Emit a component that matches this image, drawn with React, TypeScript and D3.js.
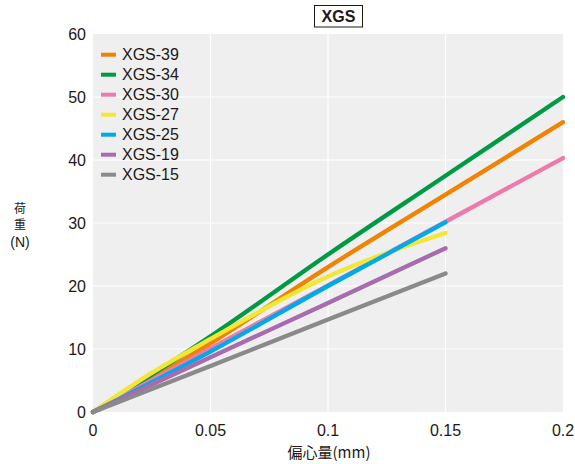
import React from "react";
import * as d3 from "d3";

const seriesNames = ["XGS-39", "XGS-34", "XGS-30", "XGS-27", "XGS-25", "XGS-19", "XGS-15"];
const seriesColors = ["#f08300", "#009944", "#ee79ad", "#f3e635", "#00a9e8", "#a86cae", "#8a8a8a"];

const xs39 = [0, 0.05, 0.1, 0.15, 0.2];
const ys39 = [0, 10.9, 23, 34.5, 46];
const xs34 = [0, 0.05, 0.1, 0.15, 0.2];
const ys34 = [0, 12, 25, 37.5, 50];
const xs30 = [0, 0.05, 0.1, 0.15, 0.2];
const ys30 = [0, 10.1, 20.1, 30.2, 40.3];
const xs27 = [0, 0.025, 0.05, 0.1, 0.15];
const ys27 = [0, 6.2, 11.6, 21.5, 28.4];
const xs25 = [0, 0.05, 0.1, 0.15];
const ys25 = [0, 9.6, 20, 30.1];
const xs19 = [0, 0.05, 0.1, 0.15];
const ys19 = [0, 8.7, 17.3, 26];
const xs15 = [0, 0.05, 0.1, 0.15];
const ys15 = [0, 7.3, 14.7, 22];

const seriesX = [xs39, xs34, xs30, xs27, xs25, xs19, xs15];
const seriesY = [ys39, ys34, ys30, ys27, ys25, ys19, ys15];

const xTicks = [0, 0.05, 0.1, 0.15, 0.2];
const yTicks = [0, 10, 20, 30, 40, 50, 60];

export default function App() {
  const left = 93, right = 563, top = 34, bottom = 412;
  const x = d3.scaleLinear().domain([0, 0.2]).range([left, right]);
  const y = d3.scaleLinear().domain([0, 60]).range([bottom, top]);
  const line = d3.line<[number, number]>().x(d => x(d[0])).y(d => y(d[1])).curve(d3.curveMonotoneX);
  const font = "'Liberation Sans', Arial, sans-serif";
  const cjk = "'Noto Sans CJK JP', sans-serif";

  return (
    <svg width={575} height={464} style={{ position: "absolute", left: 0, top: 0 }}>
      <rect x={0} y={0} width={575} height={464} fill="#fff" />
      <rect x={left} y={top} width={right - left} height={bottom - top} fill="#efefef" />
      {yTicks.slice(1, -1).map(t => (
        <line key={"gy" + t} x1={left} x2={right} y1={y(t)} y2={y(t)} stroke="#fff" strokeWidth={1.2} />
      ))}
      {xTicks.slice(1, -1).map(t => (
        <line key={"gx" + t} x1={x(t)} x2={x(t)} y1={top} y2={bottom} stroke="#fff" strokeWidth={1.2} />
      ))}
      {seriesNames.map((n, i) => {
        const pts = seriesX[i].map((v, j) => [v, seriesY[i][j]] as [number, number]);
        return (
          <path key={n} d={line(pts) || ""} fill="none" stroke={seriesColors[i]} strokeWidth={4.3}
            strokeLinecap="round" strokeLinejoin="round" />
        );
      })}
      {yTicks.map(t => (
        <text key={"yt" + t} x={86} y={y(t)} dy="0.35em" textAnchor="end" fontSize={16} fontFamily={font} fill="#231815">{t}</text>
      ))}
      {xTicks.map(t => (
        <text key={"xt" + t} x={x(t)} y={435.5} textAnchor="middle" fontSize={16} fontFamily={font} fill="#231815">{t}</text>
      ))}
      {seriesNames.map((n, i) => (
        <g key={"lg" + n}>
          <line x1={101} x2={116} y1={54.7 + i * 20} y2={54.7 + i * 20} stroke={seriesColors[i]} strokeWidth={4} />
          <text x={122} y={54.7 + i * 20} dy="0.36em" fontSize={16} fontFamily={font} fill="#231815">{n}</text>
        </g>
      ))}
      <rect x={314.5} y={5.5} width={48} height={21.5} fill="#fff" stroke="#231815" strokeWidth={1} />
      <text x={338.5} y={22} textAnchor="middle" fontSize={16} fontWeight="bold" fontFamily={font} fill="#231815">XGS</text>
      <text x={20} y={213} textAnchor="middle" fontSize={12} fontFamily={cjk} fill="#231815">荷</text>
      <text x={20} y={229} textAnchor="middle" fontSize={12} fontFamily={cjk} fill="#231815">重</text>
      <text x={20} y={246.5} textAnchor="middle" fontSize={14} fontFamily={font} fill="#231815">(N)</text>
      <text x={329} y={458} textAnchor="middle" fontSize={15} fontFamily={cjk} fill="#231815">偏心量(mm)</text>
    </svg>
  );
}
